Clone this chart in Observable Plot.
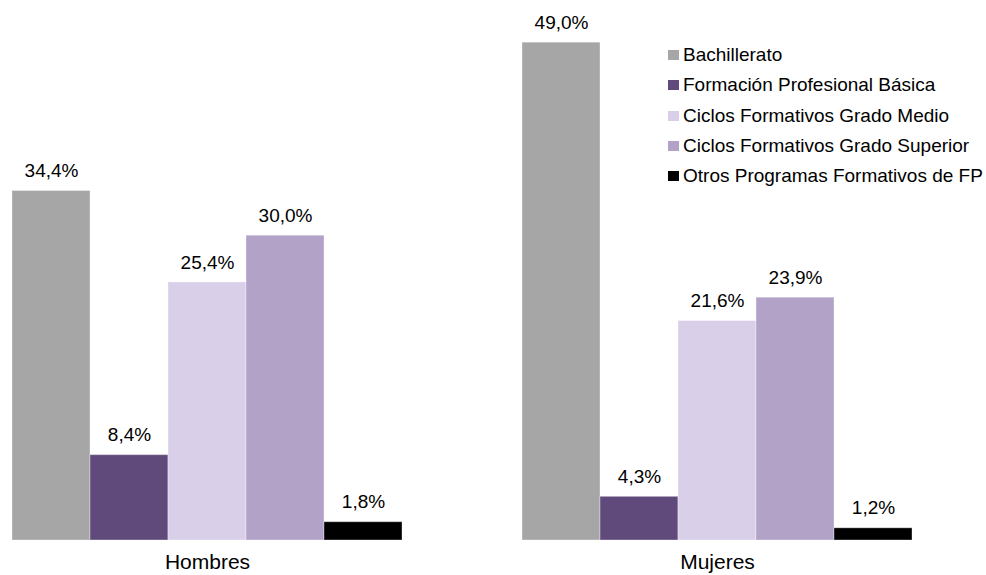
<!DOCTYPE html>
<html>
<head>
<meta charset="utf-8">
<script src="https://cdn.jsdelivr.net/npm/d3@7"></script>
<script src="https://cdn.jsdelivr.net/npm/@observablehq/plot@0.6"></script>
<style>
  html, body { margin: 0; padding: 0; background: #fff; }
  #wrap { position: relative; width: 986px; height: 575px; font-family: "Liberation Sans", Arial, sans-serif; }
  #legend { position: absolute; left: 668px; top: 40px; font-size: 19px; color: #000; }
  #legend .row { display: flex; align-items: center; height: 30.25px; white-space: nowrap; }
  #legend .sw { width: 11px; height: 10px; margin-right: 4px; flex: none; }
</style>
</head>
<body>
<div id="wrap"></div>
<script>
const groups = ["Hombres", "Mujeres"];
const categories = [
  "Bachillerato",
  "Formación Profesional Básica",
  "Ciclos Formativos Grado Medio",
  "Ciclos Formativos Grado Superior",
  "Otros Programas Formativos de FP"
];
const hombres = [34.4, 8.4, 25.4, 30.0, 1.8];
const mujeres = [49.0, 4.3, 21.6, 23.9, 1.2];
const colors = ["#a6a6a6", "#604a7b", "#d9cfe8", "#b2a2c8", "#000000"];

const data = [];
categories.forEach((c, i) => data.push({group: "Hombres", cat: c, value: hombres[i]}));
categories.forEach((c, i) => data.push({group: "Mujeres", cat: c, value: mujeres[i]}));

const fmt = v => v.toFixed(1).replace(".", ",") + "%";

const plot = Plot.plot({
  width: 986,
  height: 575,
  marginLeft: 11,
  marginRight: 73,
  marginTop: 32,
  marginBottom: 35,
  style: {fontFamily: "'Liberation Sans', Arial, sans-serif", fontSize: "19px", color: "#000", background: "#fff"},
  fx: {domain: groups, paddingInner: 0.2314, paddingOuter: 0, label: null, axis: "bottom", tickSize: 0, tickPadding: 14},
  x: {domain: categories, padding: 0, axis: null},
  y: {domain: [0, 50], axis: null},
  color: {domain: categories, range: colors},
  marks: [
    Plot.barY(data, {fx: "group", x: "cat", y: "value", fill: "cat", stroke: "#ffffff", strokeOpacity: 0.35, strokeWidth: 1}),
    Plot.text(data, {fx: "group", x: "cat", y: "value", text: d => fmt(d.value), dy: -20, lineAnchor: "middle", fill: "#000", fontSize: 19})
  ]
});

// enlarge fx axis labels
plot.querySelectorAll("g[aria-label='fx-axis tick label'] text, g[aria-label='fx-axis'] text").forEach(t => t.setAttribute("font-size", "21"));

const wrap = document.getElementById("wrap");
wrap.appendChild(plot);

const color = plot.scale("color");
const legend = document.createElement("div");
legend.id = "legend";
categories.forEach(c => {
  const row = document.createElement("div");
  row.className = "row";
  const sw = document.createElement("span");
  sw.className = "sw";
  sw.style.background = color.apply(c);
  const lab = document.createElement("span");
  lab.textContent = c;
  row.appendChild(sw);
  row.appendChild(lab);
  legend.appendChild(row);
});
wrap.appendChild(legend);
</script>
</body>
</html>
